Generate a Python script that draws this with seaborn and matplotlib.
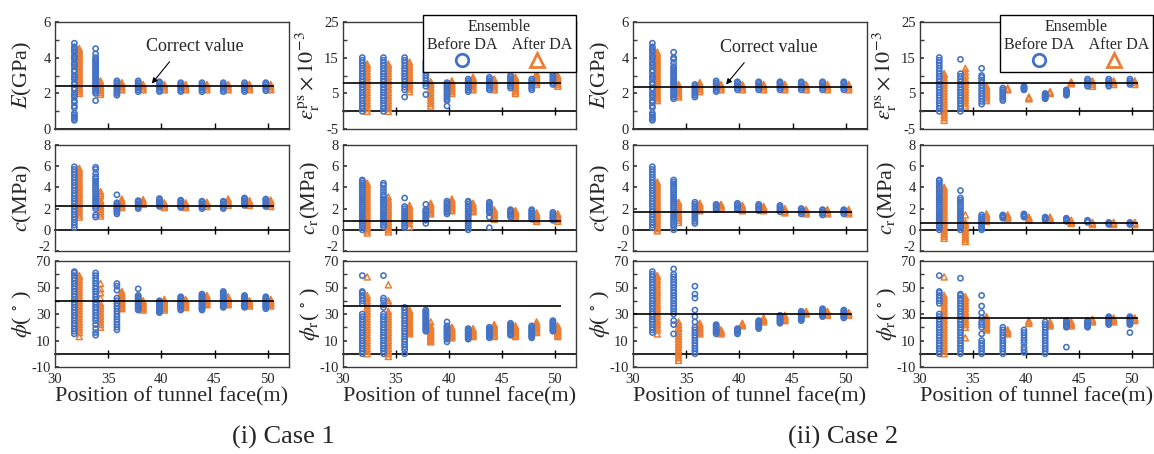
import numpy as np
import pandas as pd
import matplotlib
matplotlib.use("Agg")
import matplotlib.pyplot as plt
import seaborn as sns
from matplotlib.lines import Line2D

sns.set_theme(style="white")
plt.rcParams["font.family"] = ["Liberation Serif", "DejaVu Serif"]
plt.rcParams["mathtext.fontset"] = "stix"
plt.rcParams["axes.unicode_minus"] = False

BLUE = "#4472C4"
ORANGE = "#ED7D31"

positions = [32, 34, 36, 38, 40, 42, 44, 46, 48, 50]
x_ticklabels = [30, 35, 40, 45, 50]

# ---------------- Case 1 ----------------
c1_E_before = [
    [0.5, 0.6, 0.7, 0.8, 0.9, 1.2, 1.3, 1.5, 1.6, 1.8, 1.9, 2.0, 2.2, 2.3, 2.5, 2.6, 2.8, 2.9, 3.0, 3.2, 3.3, 3.5, 3.6, 3.7, 3.9, 4.0, 4.1, 4.3, 4.4, 4.5, 4.6, 4.8],
    [1.6, 2.0, 2.1, 2.2, 2.3, 2.4, 2.5, 2.6, 2.7, 2.8, 2.9, 3.0, 3.1, 3.2, 3.3, 3.4, 3.5, 3.6, 3.7, 3.8, 3.9, 4.0, 4.2, 4.5],
    [1.9, 2.0, 2.1, 2.2, 2.3, 2.4, 2.5, 2.6, 2.7],
    [2.1, 2.2, 2.3, 2.4, 2.5, 2.6, 2.7],
    [2.1, 2.2, 2.3, 2.4, 2.5, 2.6, 2.65],
    [2.1, 2.2, 2.3, 2.4, 2.5, 2.6],
    [2.1, 2.2, 2.3, 2.4, 2.5, 2.6],
    [2.1, 2.2, 2.3, 2.4, 2.5, 2.6],
    [2.1, 2.2, 2.3, 2.4, 2.5, 2.6],
    [2.15, 2.25, 2.35, 2.45, 2.55, 2.6],
]
c1_E_after = [
    [2.0, 2.1, 2.2, 2.3, 2.4, 2.5, 2.6, 2.7, 2.8, 2.9, 3.0, 3.1, 3.2, 3.3, 3.4, 3.5, 3.6, 3.7, 3.8, 3.9, 4.0, 4.1, 4.2, 4.3, 4.4, 4.5],
    [1.95, 2.05, 2.15, 2.25, 2.35, 2.45, 2.55, 2.7],
    [2.2, 2.3, 2.4, 2.5, 2.6],
    [2.2, 2.3, 2.4, 2.5],
    [2.2, 2.3, 2.4, 2.5],
    [2.2, 2.3, 2.4, 2.5],
    [2.2, 2.3, 2.4, 2.5],
    [2.2, 2.3, 2.4, 2.5],
    [2.2, 2.3, 2.4, 2.5],
    [2.2, 2.3, 2.4, 2.5],
]
c1_eps_before = [
    [0, 0.75, 1.5, 2.25, 3, 3.75, 4.5, 5.25, 6, 6.75, 7.5, 8.25, 9, 9.75, 10.5, 11.25, 12, 12.75, 13.5, 14.25, 15],
    [0, 0.75, 1.5, 2.25, 3, 3.75, 4.5, 5.25, 6, 6.75, 7.5, 8.25, 9, 9.75, 10.5, 11.25, 12, 12.75, 13.5, 14.25, 15],
    [4, 6, 6.75, 7.5, 8.25, 9, 9.75, 10.5, 11.25, 12, 12.75, 13.5, 14.25, 15],
    [4.7, 7, 7.75, 8.5, 9.25, 10, 10.75, 11.5, 12.25, 13, 13.75],
    [1.5, 3, 3.5, 4, 4.5, 5, 5.5, 6, 6.5, 7, 7.5, 8],
    [5.5, 6, 6.5, 7, 7.5, 8, 8.5, 9],
    [6, 6.5, 7, 7.5, 8, 8.5, 9, 9.5],
    [6.5, 7, 7.5, 8, 8.5, 9, 9.5, 10],
    [6, 6.5, 7, 7.5, 8, 8.5, 9],
    [7.5, 8, 8.5, 9, 9.5, 10, 10.5, 11],
]
c1_eps_after = [
    [0, 0.75, 1.5, 2.25, 3, 3.75, 4.5, 5.25, 6, 6.75, 7.5, 8.25, 9, 9.75, 10.5, 11.25, 12, 12.75, 13.2],
    [0, 0.75, 1.5, 2.25, 3, 3.75, 4.5, 5.25, 6, 6.75, 7.5, 8.25, 9, 9.75, 10.5, 11.25, 12, 12.75, 13.2],
    [5.5, 6.25, 7, 7.75, 8.5, 9.25, 10, 10.75, 11.5, 12.25, 13, 13.75],
    [1.5, 2.25, 3, 3.75, 4.5, 5.25, 6, 6.75, 7.5, 8.25],
    [5, 5.5, 6, 6.5, 7, 7.5, 8, 8.5],
    [6, 6.5, 7, 7.5, 8, 8.5, 9, 9.5],
    [6, 6.5, 7, 7.5, 8, 8.5, 9],
    [5, 5.5, 6, 6.5, 7, 7.5, 8, 8.5, 9, 9.5],
    [7.5, 8, 8.5, 9, 9.5, 10, 10.5],
    [7, 7.5, 8, 8.5, 9, 9.5, 10],
]
c1_c_before = [
    [0.2, 0.45, 0.7, 0.95, 1.2, 1.45, 1.7, 1.95, 2.2, 2.45, 2.7, 2.95, 3.2, 3.45, 3.7, 3.95, 4.2, 4.45, 4.7, 4.95, 5.2, 5.45, 5.7, 5.95],
    [1.2, 1.4, 2.0, 2.2, 2.4, 2.6, 2.8, 3.0, 3.2, 3.4, 3.6, 3.8, 4.0, 4.2, 4.4, 4.6, 4.8, 5.0, 5.3, 5.7, 5.9],
    [1.5, 1.65, 1.8, 1.95, 2.1, 2.25, 2.4, 2.55, 3.3],
    [2.0, 2.15, 2.3, 2.45, 2.6, 2.75],
    [2.2, 2.35, 2.5, 2.65, 2.8, 2.95],
    [2.1, 2.25, 2.4, 2.55, 2.7, 2.8],
    [2.0, 2.15, 2.3, 2.45, 2.6, 2.7],
    [2.0, 2.15, 2.3, 2.45, 2.6, 2.7],
    [2.3, 2.45, 2.6, 2.75, 2.9, 3.0],
    [2.2, 2.35, 2.5, 2.65, 2.8, 2.9],
]
c1_c_after = [
    [1.2, 1.4, 1.6, 1.8, 2.0, 2.2, 2.4, 2.6, 2.8, 3.0, 3.2, 3.4, 3.6, 3.8, 4.0, 4.2, 4.4, 4.6, 4.8, 5.0, 5.2, 5.4, 5.6, 5.8],
    [1.3, 1.5, 1.7, 1.9, 2.1, 2.3, 2.5, 2.7, 2.8, 3.2, 3.4, 3.6],
    [2.1, 2.25, 2.4, 2.55, 2.7, 2.9],
    [2.4, 2.55, 2.7, 2.85],
    [2.1, 2.25, 2.4, 2.55],
    [2.1, 2.25, 2.4, 2.55],
    [2.2, 2.35, 2.5, 2.6],
    [2.3, 2.45, 2.6, 2.75, 2.9],
    [2.3, 2.45, 2.6, 2.75],
    [2.2, 2.35, 2.5, 2.65, 2.8],
]
c1_cr_before = [
    [0, 0.2, 0.4, 0.6, 0.8, 1.0, 1.2, 1.4, 1.6, 1.8, 2.0, 2.2, 2.4, 2.6, 2.8, 3.0, 3.2, 3.4, 3.6, 3.8, 4.0, 4.2, 4.4, 4.6, 4.7],
    [0.3, 0.5, 0.7, 0.9, 1.1, 1.3, 1.5, 1.7, 1.9, 2.1, 2.3, 2.5, 2.7, 2.9, 3.1, 3.3, 3.6, 3.9, 4.2, 4.4],
    [0.2, 0.4, 0.6, 0.8, 1.0, 1.2, 1.4, 1.6, 1.8, 2.0, 2.2, 3.0],
    [0.6, 0.9, 1.05, 1.2, 1.35, 1.5, 1.65, 1.8, 1.9, 2.4],
    [1.5, 1.65, 1.8, 1.95, 2.1, 2.25, 2.4, 2.55, 2.7],
    [0, 0.2, 0.4, 0.6, 0.8, 1.0, 1.2, 1.4, 1.6, 1.8, 2.0, 2.2, 2.4, 2.6, 2.7],
    [0.2, 1.2, 1.6, 1.75, 1.9, 2.05, 2.2, 2.35, 2.5, 2.6],
    [1.2, 1.35, 1.5, 1.65, 1.8, 1.9],
    [1.0, 1.15, 1.3, 1.45, 1.6, 1.75, 1.9],
    [0.9, 1.05, 1.2, 1.35, 1.5, 1.65],
]
c1_cr_after = [
    [-0.3, -0.1, 0.1, 0.3, 0.5, 0.7, 0.9, 1.1, 1.3, 1.5, 1.7, 1.9, 2.1, 2.3, 2.5, 2.7, 2.9, 3.1, 3.3, 3.5, 3.7, 3.9, 4.1, 4.3, 4.4],
    [-0.2, 0.0, 0.2, 0.4, 0.6, 0.8, 1.0, 1.2, 1.4, 1.6, 1.8, 2.0, 2.2, 2.4, 2.6, 2.8, 3.1],
    [0.3, 0.6, 0.9, 1.1, 1.3, 1.5, 1.7, 1.9, 2.1, 2.3],
    [1.5, 1.65, 1.8, 1.95, 2.1, 2.25, 2.4, 2.5],
    [1.8, 1.95, 2.1, 2.25, 2.4, 2.55, 2.7, 2.9],
    [1.7, 1.85, 2.0, 2.15, 2.3, 2.5],
    [1.0, 1.15, 1.3, 1.45, 1.6, 1.75, 1.9],
    [1.1, 1.25, 1.4, 1.55, 1.7, 1.8],
    [0.8, 0.95, 1.1, 1.25, 1.4, 1.6],
    [0.8, 0.95, 1.1, 1.25, 1.4, 1.5],
]
c1_phi_before = [
    [15, 17, 19, 21, 23, 25, 27, 29, 31, 33, 35, 37, 39, 41, 43, 45, 47, 49, 51, 53, 55, 57, 59, 61, 62],
    [14, 16, 19, 22, 25, 27, 29, 31, 33, 35, 37, 39, 41, 43, 45, 47, 49, 51, 53, 55, 57, 59, 61],
    [18, 20, 22, 24, 26, 28, 30, 32, 34, 36, 38, 40, 42, 48, 51, 53],
    [33, 34, 35, 36, 37, 38, 39, 40, 41, 42, 43, 44, 49],
    [31, 32, 33, 34, 35, 36, 37, 38, 39, 40],
    [33, 34, 35, 36, 37, 38, 39, 40, 41, 42, 43],
    [33, 34, 35, 36, 37, 38, 39, 40, 41, 42, 43, 44, 45],
    [35, 36, 37, 38, 39, 40, 41, 42, 43, 44, 45, 46, 47],
    [35, 36, 37, 38, 39, 40, 41, 42, 43, 44],
    [34, 35, 36, 37, 38, 39, 40, 41, 42, 43],
]
c1_phi_after = [
    [13, 16, 18, 20, 22, 24, 26, 28, 30, 32, 34, 36, 38, 40, 42, 44, 46, 48, 50, 52, 54, 56, 58, 59],
    [20, 22, 24, 26, 28, 30, 32, 34, 36, 38, 42, 46, 49, 53],
    [34, 35, 36, 37, 38, 39, 40, 41, 42, 43, 44, 45, 46, 47],
    [33, 34, 35, 36, 37, 38, 39, 40],
    [33, 34, 35, 36, 37, 38, 39, 40, 41],
    [35, 36, 37, 38, 39, 40, 41],
    [37, 38, 39, 40, 41, 42, 43, 44],
    [37, 38, 39, 40, 41, 42, 43],
    [36, 37, 38, 39, 40],
    [36, 37, 38, 39, 40, 41],
]
c1_phir_before = [
    [0, 2, 4, 6, 8, 10, 12, 14, 16, 18, 20, 22, 24, 26, 28, 30, 38, 40, 42, 44, 46, 47, 59],
    [0, 2, 4, 6, 8, 10, 12, 14, 16, 18, 20, 22, 24, 26, 28, 30, 35, 37, 40, 42, 59],
    [0, 3, 5, 7, 9, 11, 13, 15, 17, 19, 21, 23, 25, 27, 29, 31, 33, 35],
    [17, 18, 19, 20, 21, 22, 23, 24, 25, 26, 27, 28, 29, 30, 31, 32, 33],
    [9, 11, 12, 13, 14, 15, 16, 17, 18, 19, 20, 21, 24],
    [11, 12, 13, 14, 15, 16, 17, 18, 19],
    [12, 13, 14, 15, 16, 17, 18, 19, 20],
    [14, 15, 16, 17, 18, 19, 20, 21, 22, 23],
    [12, 13, 14, 15, 16, 17, 18, 19, 20, 21],
    [17, 18, 19, 20, 21, 22, 23, 24, 25],
]
c1_phir_after = [
    [0, 2, 4, 6, 8, 10, 12, 14, 16, 18, 20, 22, 24, 26, 28, 30, 32, 34, 36, 38, 40, 42, 44, 58],
    [-2, 0, 2, 4, 6, 8, 10, 12, 14, 16, 18, 20, 22, 24, 26, 28, 30, 32, 38, 40, 52],
    [15, 16, 17, 18, 19, 20, 21, 22, 23, 24, 25, 26, 27, 28, 29, 30, 31, 32, 33],
    [9, 10, 11, 12, 13, 14, 15, 16, 17, 18, 19, 20, 21, 24],
    [12, 13, 14, 15, 16, 17, 18, 19, 20],
    [13, 14, 15, 16, 17, 18, 19],
    [13, 14, 15, 16, 17, 18, 19, 20, 21, 22],
    [13, 14, 15, 16, 17, 18, 19, 20, 21],
    [16, 17, 18, 19, 20, 21, 22, 23, 24],
    [13, 14, 15, 16, 17, 18, 19, 20, 21],
]

# ---------------- Case 2 ----------------
c2_E_before = [
    [0.5, 0.6, 0.7, 0.8, 0.9, 1.2, 1.3, 1.5, 1.6, 1.8, 1.9, 2.0, 2.2, 2.3, 2.5, 2.6, 2.8, 2.9, 3.0, 3.2, 3.3, 3.5, 3.6, 3.7, 3.9, 4.0, 4.1, 4.3, 4.4, 4.5, 4.6, 4.8],
    [1.7, 1.8, 1.9, 2.0, 2.1, 2.2, 2.3, 2.4, 2.5, 2.6, 2.7, 2.8, 2.9, 3.0, 3.1, 3.2, 3.3, 3.4, 3.5, 3.7, 3.9, 4.0, 4.3],
    [1.8, 1.9, 2.0, 2.1, 2.2, 2.3, 2.4, 2.5],
    [2.1, 2.2, 2.3, 2.4, 2.5, 2.6, 2.7],
    [2.2, 2.3, 2.4, 2.5, 2.6, 2.65],
    [2.2, 2.3, 2.4, 2.5, 2.6, 2.65],
    [2.2, 2.3, 2.4, 2.5, 2.6, 2.65],
    [2.2, 2.3, 2.4, 2.5, 2.6, 2.65],
    [2.2, 2.3, 2.4, 2.5, 2.6, 2.65],
    [2.2, 2.3, 2.4, 2.5, 2.6, 2.65],
]
c2_E_after = [
    [1.6, 1.7, 1.8, 1.9, 2.0, 2.1, 2.2, 2.3, 2.4, 2.5, 2.6, 2.7, 2.8, 2.9, 3.0, 3.1, 3.2, 3.3, 3.4, 3.5, 3.6, 3.7, 3.8, 3.9, 4.0, 4.1, 4.2, 4.3],
    [1.8, 1.9, 2.0, 2.1, 2.2, 2.3, 2.4, 2.5],
    [2.1, 2.2, 2.3, 2.4, 2.5, 2.6],
    [2.2, 2.3, 2.4, 2.5],
    [2.2, 2.3, 2.4, 2.5],
    [2.2, 2.3, 2.4, 2.5],
    [2.2, 2.3, 2.4, 2.5],
    [2.2, 2.3, 2.4, 2.5],
    [2.2, 2.3, 2.4, 2.5],
    [2.2, 2.3, 2.4, 2.5],
]
c2_eps_before = [
    [0, 0.75, 1.5, 2.25, 3, 3.75, 4.5, 5.25, 6, 6.75, 7.5, 8.25, 9, 9.75, 10.5, 11.25, 12, 12.75, 13.5, 14.25, 15],
    [0, 0.75, 1.5, 2.25, 3, 3.75, 4.5, 5.25, 6, 6.75, 7.5, 8.25, 9, 9.75, 10.5, 14.5],
    [2, 2.75, 3.5, 4.25, 5, 5.75, 6.5, 7.25, 8, 8.75, 9.5, 10, 12],
    [3, 3.5, 4, 4.5, 5, 5.5, 6, 6.5],
    [6, 6.25, 6.5, 6.75, 7],
    [3.5, 3.75, 4, 4.25, 4.5, 4.75, 5],
    [4.5, 4.75, 5, 5.25, 5.5, 5.75, 6],
    [7, 7.5, 8, 8.5, 9],
    [7, 7.5, 8, 8.5, 9],
    [7.5, 8, 8.5, 9],
]
c2_eps_after = [
    [-2.5, -1.75, -1, -0.25, 0.5, 1.25, 2, 2.75, 3.5, 4.25, 5, 5.75, 6.5, 7.25, 8, 8.75, 9.5, 10.25, 10.5],
    [1.5, 2.25, 3, 3.75, 4.5, 5.25, 6, 6.75, 7.5, 8.25, 9, 10, 11, 12],
    [3, 3.5, 4, 4.5, 5, 5.5, 6, 6.5, 7],
    [6, 6.25, 6.5],
    [3.5, 3.75, 4],
    [5, 5.25, 5.5],
    [7.7, 7.95, 8.2],
    [7, 7.5, 8, 8.5],
    [7.5, 8, 8.5],
    [7.5, 8, 8.5],
]
c2_c_before = [
    [0.2, 0.45, 0.7, 0.95, 1.2, 1.45, 1.7, 1.95, 2.2, 2.45, 2.7, 2.95, 3.2, 3.45, 3.7, 3.95, 4.2, 4.45, 4.7, 4.95, 5.2, 5.45, 5.7, 5.95],
    [0, 0.3, 0.5, 0.7, 0.9, 1.1, 1.3, 1.5, 1.7, 1.9, 2.1, 2.3, 2.5, 2.7, 2.9, 3.1, 3.3, 3.5, 3.7, 3.9, 4.1, 4.3, 4.5, 4.7],
    [0.6, 0.8, 1.0, 1.2, 1.4, 1.6, 1.8, 2.0, 2.2, 2.4, 2.6],
    [1.9, 2.05, 2.2, 2.35, 2.4],
    [1.9, 2.05, 2.2, 2.35, 2.5],
    [1.8, 1.95, 2.1, 2.25, 2.4],
    [1.7, 1.85, 2.0, 2.15, 2.3],
    [1.5, 1.65, 1.8, 1.95, 2.0],
    [1.4, 1.55, 1.7, 1.85, 1.9],
    [1.5, 1.65, 1.8, 1.9],
]
c2_c_after = [
    [-0.1, 0.1, 0.3, 0.5, 0.7, 0.9, 1.1, 1.3, 1.5, 1.7, 1.9, 2.1, 2.3, 2.5, 2.7, 2.9, 3.1, 3.3, 3.5, 3.7, 3.9, 4.1, 4.3, 4.5],
    [0.7, 0.9, 1.1, 1.3, 1.5, 1.7, 1.9, 2.1, 2.3, 2.5, 2.6],
    [1.8, 1.95, 2.1, 2.25, 2.4, 2.5],
    [2.0, 2.15, 2.3, 2.4],
    [1.8, 1.95, 2.1, 2.25, 2.3],
    [1.8, 1.95, 2.1, 2.2],
    [1.6, 1.75, 1.9, 2.0],
    [1.5, 1.65, 1.8, 1.9],
    [1.5, 1.65, 1.8, 1.9],
    [1.5, 1.65, 1.8, 1.9],
]
c2_cr_before = [
    [0, 0.2, 0.4, 0.6, 0.8, 1.0, 1.2, 1.4, 1.6, 1.8, 2.0, 2.2, 2.4, 2.6, 2.8, 3.0, 3.2, 3.4, 3.6, 3.8, 4.0, 4.2, 4.4, 4.6, 4.7],
    [0, 0.2, 0.4, 0.6, 0.8, 1.0, 1.2, 1.4, 1.6, 1.8, 2.0, 2.2, 2.4, 2.6, 2.8, 3.0, 3.7],
    [0, 0.15, 0.3, 0.45, 0.6, 0.75, 0.9, 1.05, 1.2, 1.4],
    [1.1, 1.2, 1.3, 1.4],
    [1.2, 1.3, 1.4, 1.5],
    [0.9, 1.0, 1.1, 1.2],
    [0.8, 0.9, 1.0, 1.1],
    [0.7, 0.8, 0.9],
    [0.5, 0.6, 0.7],
    [0.5, 0.6, 0.7],
]
c2_cr_after = [
    [-0.8, -0.6, -0.4, -0.2, 0.0, 0.2, 0.4, 0.6, 0.8, 1.0, 1.2, 1.4, 1.6, 1.8, 2.0, 2.2, 2.4, 2.6, 2.8, 3.0, 3.2, 3.4, 3.6, 3.8, 4.0],
    [-1.1, -0.9, -0.7, -0.5, -0.3, -0.1, 0.1, 0.3, 0.5, 0.7, 1.4],
    [0.8, 0.95, 1.1, 1.25, 1.4, 1.5],
    [1.1, 1.2, 1.3, 1.4],
    [0.9, 1.0, 1.1, 1.2],
    [0.9, 1.0, 1.1, 1.2],
    [0.6, 0.7, 0.8, 0.9],
    [0.5, 0.6, 0.7],
    [0.5, 0.6, 0.7],
    [0.5, 0.6, 0.7],
]
c2_phi_before = [
    [16, 18, 20, 22, 24, 26, 28, 30, 32, 34, 36, 38, 40, 42, 44, 46, 48, 50, 52, 54, 56, 58, 60, 62],
    [15, 22, 25, 30, 32, 34, 36, 38, 40, 42, 44, 46, 48, 50, 52, 54, 56, 58, 60, 64],
    [0, 2, 4, 6, 8, 10, 12, 14, 16, 18, 20, 24, 28, 33, 42, 45, 51],
    [15, 16, 17, 18, 19, 20, 21, 22],
    [15, 16, 17, 18, 19],
    [19, 20, 21, 22, 23, 24, 25],
    [23, 24, 25, 26, 27, 28, 29],
    [25, 26, 27, 28, 29, 30, 31, 32],
    [28, 29, 30, 31, 32, 33, 34],
    [27, 28, 29, 30, 31, 32, 33],
]
c2_phi_after = [
    [15, 18, 20, 22, 24, 26, 28, 30, 32, 34, 36, 38, 40, 42, 44, 46, 48, 50, 52, 54, 56, 58, 59],
    [-5, -3, -1, 1, 3, 5, 7, 9, 11, 13, 15, 17, 19, 20, 22, 24],
    [15, 16, 17, 18, 19, 20, 21, 22, 23],
    [15, 16, 17, 18],
    [21, 22, 23],
    [24, 25, 26, 27],
    [25, 26, 27, 28, 29],
    [30, 31, 32],
    [29, 30, 31, 32],
    [29, 30, 31],
]
c2_phir_before = [
    [0, 2, 4, 6, 8, 10, 12, 14, 16, 18, 20, 22, 24, 26, 28, 30, 38, 40, 42, 44, 46, 47, 59],
    [0, 2, 4, 6, 8, 10, 12, 14, 16, 18, 20, 22, 24, 26, 28, 30, 32, 34, 36, 38, 40, 42, 44, 45, 57],
    [0, 2, 4, 6, 8, 10, 15, 20, 22, 24, 27, 31, 36, 44],
    [0, 2, 4, 6, 8, 10, 12, 14, 16, 18, 20],
    [1, 3, 5, 8, 10, 12, 14, 16, 18],
    [0, 2, 4, 6, 8, 10, 12, 14, 16, 18, 20, 22, 24],
    [5, 20, 21, 22, 23, 24, 25],
    [20, 21, 22, 23, 24, 25],
    [22, 23, 24, 25, 26, 27, 28],
    [16, 22, 23, 24, 25, 26, 27, 28],
]
c2_phir_after = [
    [0, 2, 4, 6, 8, 10, 12, 14, 16, 18, 20, 22, 24, 26, 28, 30, 32, 34, 36, 38, 40, 42, 44, 58],
    [12, 20, 22, 24, 26, 28, 30, 32, 34, 36, 38, 40, 42, 43],
    [18, 19, 20, 21, 22, 23, 24, 25, 26, 27, 28],
    [15, 16, 17, 18],
    [23, 24, 25],
    [21, 22, 23, 24],
    [21, 22, 23, 24],
    [24, 25, 26],
    [24, 25, 26, 27],
    [25, 26, 27],
]

# correct (true) values
c1_correct = {"E": 2.4, "eps": 7.8, "c": 2.2, "cr": 0.8, "phi": 40, "phir": 36}
c2_correct = {"E": 2.35, "eps": 7.8, "c": 1.65, "cr": 0.6, "phi": 30, "phir": 27}

# ---------------- styling / layout ----------------
W, H = 1154, 454
fig = plt.figure(figsize=(W / 100, H / 100), dpi=100)

col_px = [(55, 234), (343, 233), (633, 234), (920, 233)]
row_px = [(21.7, 129.3), (145, 251), (261, 367)]

panel_spec = {
    "E": dict(ylim=(0, 6), major=[0, 2, 4, 6], minor=[1, 3, 5], label=r"$E$(GPa)"),
    "eps": dict(ylim=(-5, 25), major=[-5, 5, 15, 25], minor=[0, 10, 20],
                label=r"$\varepsilon_{\mathrm{r}}^{\mathrm{ps}}\times10^{-3}$"),
    "c": dict(ylim=(-2, 8), major=[-2, 0, 2, 4, 6, 8], minor=[], label=r"$c$(MPa)"),
    "cr": dict(ylim=(-2, 8), major=[-2, 0, 2, 4, 6, 8], minor=[], label=r"$c_{\mathrm{r}}$(MPa)"),
    "phi": dict(ylim=(-10, 70), major=[-10, 10, 30, 50, 70], minor=[0, 20, 40, 60],
                label=r"$\phi$( $^{\circ}$ )"),
    "phir": dict(ylim=(-10, 70), major=[-10, 10, 30, 50, 70], minor=[0, 20, 40, 60],
                 label=r"$\phi_{\mathrm{r}}$( $^{\circ}$ )"),
}

case_data = {
    1: {"E": (c1_E_before, c1_E_after), "eps": (c1_eps_before, c1_eps_after),
        "c": (c1_c_before, c1_c_after), "cr": (c1_cr_before, c1_cr_after),
        "phi": (c1_phi_before, c1_phi_after), "phir": (c1_phir_before, c1_phir_after)},
    2: {"E": (c2_E_before, c2_E_after), "eps": (c2_eps_before, c2_eps_after),
        "c": (c2_c_before, c2_c_after), "cr": (c2_cr_before, c2_cr_after),
        "phi": (c2_phi_before, c2_phi_after), "phir": (c2_phir_before, c2_phir_after)},
}
correct = {1: c1_correct, 2: c2_correct}
grid = [["E", "eps"], ["c", "cr"], ["phi", "phir"]]

OFF_B, OFF_A = -0.18, 0.28
TICK_FS = 10.5
SPINE_C = "#3a3a3a"


def long_frame(groups, offset):
    rows = []
    for p, vals in zip(positions, groups):
        for v in vals:
            rows.append((p + offset, v))
    return pd.DataFrame(rows, columns=["x", "value"])


for case in (1, 2):
    for r, row in enumerate(grid):
        for cidx, key in enumerate(row):
            cx, cw = col_px[(case - 1) * 2 + cidx]
            ry0, ry1 = row_px[r]
            ax = fig.add_axes([cx / W, 1 - ry1 / H, cw / W, (ry1 - ry0) / H])
            spec = panel_spec[key]
            before, after = case_data[case][key]
            ylo, yhi = spec["ylim"]

            cv = correct[case][key]
            ax.hlines(cv, 30, 50.6, color="black", lw=1.2, zorder=4)

            sns.scatterplot(data=long_frame(before, OFF_B), x="x", y="value", ax=ax,
                            marker="o", s=14, color=BLUE, facecolors="none",
                            edgecolor=BLUE, linewidth=1.15, legend=False, zorder=3)
            sns.scatterplot(data=long_frame(after, OFF_A), x="x", y="value", ax=ax,
                            marker="^", s=19, color=ORANGE, facecolors="none",
                            edgecolor=ORANGE, linewidth=1.1, legend=False, zorder=2)

            ax.set_xlim(30, 52)
            ax.set_ylim(ylo, yhi)
            ax.set_xticks(x_ticklabels)
            ax.set_yticks(spec["major"])
            ax.set_yticks(spec["minor"], minor=True)
            ax.tick_params(axis="y", which="both", direction="in", length=3,
                           color=SPINE_C, labelsize=TICK_FS, pad=3, left=True)
            ax.tick_params(axis="x", length=0, labelsize=TICK_FS, pad=4,
                           labelbottom=(r == 2))
            if r == 1:
                # lowest label of the middle row sits just above its tick
                ax.get_yticklabels()[0].set_va("baseline")
            ax.set_xlabel("Position of tunnel face(m)" if r == 2 else "",
                          fontsize=16, labelpad=1)
            ax.set_ylabel(spec["label"], fontsize=16)
            ax.yaxis.set_label_coords(-0.09, 0.5)
            for sp in ax.spines.values():
                sp.set_color(SPINE_C)
                sp.set_linewidth(1.0)
            ax.grid(False)

            # axis line crossing at zero with cross tick marks
            frac = (0 - ylo) / (yhi - ylo)
            sec = ax.secondary_xaxis(frac)
            sec.set_xticks([35, 40, 45, 50])
            sec.tick_params(axis="x", direction="in" if frac == 0 else "inout",
                            length=4 if frac == 0 else 6, width=1.0, color="black",
                            labelbottom=False, labeltop=False)
            for sp in sec.spines.values():
                sp.set_color("black")
                sp.set_linewidth(1.2)

            if key == "E":
                if case == 1:
                    tip, txt = (39.1, 2.55), (43.1, 4.6)
                else:
                    tip, txt = (38.75, 2.5), (42.8, 4.55)
                ax.annotate("Correct value", xy=tip, xytext=txt, ha="center", va="center",
                            fontsize=13,
                            arrowprops=dict(arrowstyle="-|>", color="black", lw=0.8,
                                            mutation_scale=8, relpos=(0.3, 0.0),
                                            shrinkA=3, shrinkB=0))
            if key == "eps":
                handles = [
                    Line2D([], [], ls="none", marker="o", ms=9, mfc="none", mec=BLUE, mew=2),
                    Line2D([], [], ls="none", marker="^", ms=10, mfc="none", mec=ORANGE, mew=2),
                ]
                leg = ax.legend(handles, ["", ""], title="Ensemble\nBefore DA    After DA",
                                ncol=2, loc="upper right", bbox_to_anchor=(1.0, 1.065),
                                borderaxespad=0.0,
                                frameon=True, fancybox=False, edgecolor="black",
                                handlelength=1.0, handletextpad=0.0, columnspacing=3.9,
                                title_fontsize=11.5, fontsize=11, borderpad=0.25,
                                labelspacing=0.1, framealpha=1)
                leg.get_title().set_multialignment("center")
                leg.get_frame().set_linewidth(1.0)
                leg.set_zorder(10)

fig.text(283 / W, 1 - 437 / H, "(i) Case 1", ha="center", va="center", fontsize=19)
fig.text(843 / W, 1 - 437 / H, "(ii) Case 2", ha="center", va="center", fontsize=19)

fig.savefig("out.png", dpi=100)
